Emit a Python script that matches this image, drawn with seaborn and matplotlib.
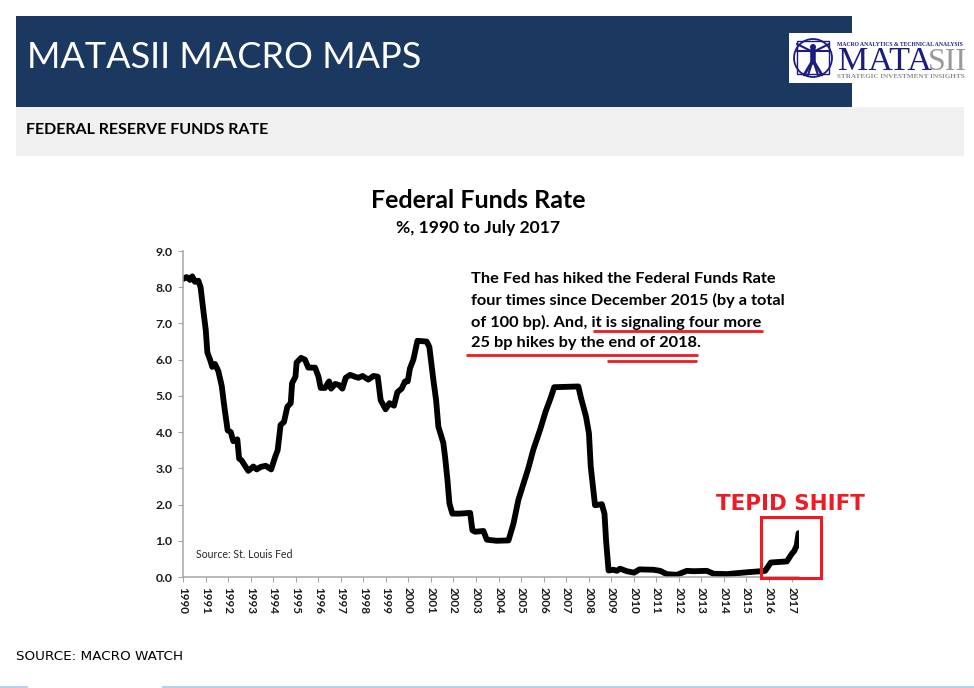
import matplotlib
matplotlib.use('Agg')
import matplotlib.pyplot as plt
import seaborn as sns
from matplotlib.patches import Rectangle, Circle

# years since 1990 and rate in %
anios = [0.01, 0.16, 0.31, 0.41, 0.53, 0.68, 0.78, 0.90, 1.01, 1.08, 1.20, 1.30, 1.42, 1.57, 1.72, 1.83,
         1.98, 2.12, 2.23, 2.41, 2.49, 2.60, 2.75, 2.90, 3.12, 3.27, 3.45, 3.67, 3.91, 4.08, 4.20, 4.33,
         4.48, 4.63, 4.78, 4.84, 4.99, 5.04, 5.24, 5.41, 5.56, 5.86, 6.01, 6.11, 6.30, 6.48, 6.57, 6.75,
         6.92, 7.07, 7.22, 7.41, 7.63, 7.78, 7.97, 8.22, 8.45, 8.64, 8.77, 8.99, 9.16, 9.36, 9.51, 9.70,
         9.85, 9.97, 10.07, 10.22, 10.40, 10.81, 10.93, 11.11, 11.23, 11.33, 11.55, 11.63, 11.73, 11.82,
         11.95, 12.29, 12.74, 12.84, 12.96, 13.33, 13.48, 13.92, 14.44, 14.66, 14.88, 15.32, 15.54, 15.84,
         16.09, 16.31, 16.47, 17.54, 17.66, 17.88, 18.01, 18.09, 18.28, 18.58, 18.70, 18.77, 18.88, 19.10,
         19.25, 19.39, 19.69, 20.01, 20.25, 20.87, 21.17, 21.46, 21.91, 22.35, 22.65, 23.24, 23.54, 24.13,
         25.01, 25.61, 25.83, 26.08, 26.79, 27.01, 27.12, 27.23, 27.31]
tasa = [8.23, 8.28, 8.20, 8.30, 8.15, 8.18, 8.00, 7.37, 6.82, 6.20, 6.00, 5.80, 5.88, 5.68, 5.27, 4.72,
        4.05, 4.00, 3.75, 3.80, 3.27, 3.22, 3.07, 2.93, 3.05, 2.97, 3.04, 3.07, 2.97, 3.30, 3.50, 4.20,
        4.28, 4.70, 4.80, 5.35, 5.53, 5.92, 6.05, 6.00, 5.78, 5.78, 5.53, 5.22, 5.22, 5.40, 5.20, 5.33,
        5.30, 5.20, 5.50, 5.58, 5.53, 5.50, 5.55, 5.45, 5.55, 5.53, 4.88, 4.63, 4.80, 4.73, 5.10, 5.20,
        5.40, 5.40, 5.76, 6.00, 6.52, 6.50, 6.35, 5.43, 4.88, 4.15, 3.70, 3.30, 2.70, 2.03,
        1.75, 1.75, 1.77, 1.29, 1.25, 1.27, 1.03, 1.00, 1.01, 1.47, 2.13, 3.00, 3.51, 4.06,
        4.57, 4.94, 5.24, 5.26, 4.94, 4.43, 3.97, 3.05, 1.98, 2.01, 1.75, 1.01, 0.18, 0.20,
        0.17, 0.23, 0.16, 0.12, 0.21, 0.20, 0.17, 0.08, 0.06, 0.17, 0.16, 0.17, 0.09, 0.08,
        0.13, 0.16, 0.17, 0.40, 0.43, 0.64, 0.72, 0.87, 1.21]
etiquetas_x = [str(a) for a in range(1990, 2018)]
marcas_y = [0, 1, 2, 3, 4, 5, 6, 7, 8, 9]

ANCHO, ALTO = 974, 688
AZUL = '#1a3860'
ROJO = '#ed1c24'

sns.set_style('white')
plt.rcParams['font.family'] = ['Lato', 'DejaVu Sans']

fig = plt.figure(figsize=(ANCHO / 100, ALTO / 100), dpi=100, facecolor='white')

# fondo en pixeles
fondo = fig.add_axes([0, 0, 1, 1])
fondo.set_xlim(0, ANCHO)
fondo.set_ylim(ALTO, 0)
fondo.axis('off')
fondo.add_patch(Rectangle((16, 16), 836, 91, color=AZUL, lw=0))
fondo.add_patch(Rectangle((16, 107), 948, 49, color='#f0f0f0', lw=0))
fondo.add_patch(Rectangle((0, 686), 28, 2, color='#b8d0f0', lw=0))
fondo.add_patch(Rectangle((162, 686), 812, 2, color='#b8d0f0', lw=0))
fondo.text(27, 57, 'MATASII MACRO MAPS', color='white', fontsize=26, va='center', ha='left')
fondo.text(26, 129.5, 'FEDERAL RESERVE FUNDS RATE', color='black', fontsize=11.5, fontweight='bold', va='center')
fondo.text(16, 656, 'SOURCE: MACRO WATCH', color='black', fontsize=9.7, family='DejaVu Sans', va='center')

# logo
fondo.add_patch(Rectangle((789, 33), 175, 50, color='white', lw=0))
fondo.add_patch(Circle((813, 58), 19, fill=False, ec='#1c1c80', lw=1.3))
fondo.add_patch(Rectangle((797, 41), 32, 33, fill=False, ec='#1c1c80', lw=1))
fondo.add_patch(Circle((813, 47), 3, color='#1c1c80', lw=0))
fondo.plot([813, 813], [50, 62], color='#1c1c80', lw=4)
fondo.plot([797, 829], [51, 51], color='#1c1c80', lw=1.5)
fondo.plot([797, 813, 829], [44, 52, 44], color='#1c1c80', lw=1.5)
fondo.plot([804, 813, 822], [75, 60, 75], color='#1c1c80', lw=2)
fondo.plot([808, 813, 818], [75, 60, 75], color='#1c1c80', lw=1.5)
fondo.text(837, 44, 'MACRO ANALYTICS & TECHNICAL ANALYSIS', color='#1c1c80', fontsize=4.05, fontweight='bold',
           family='Liberation Serif', va='center')
fondo.text(838, 70, 'MATA', color='#1c1c80', fontsize=24.5, family='Liberation Serif', va='baseline')
fondo.text(928, 70, 'SII', color='#999999', fontsize=23, family='Liberation Serif', va='baseline')
fondo.text(837, 77, 'STRATEGIC INVESTMENT INSIGHTS', color='#8c8c8c', fontsize=5.15, fontweight='bold',
           family='Liberation Serif', va='center')

# grafico
ax = fig.add_axes([183 / ANCHO, 1 - 577 / ALTO, 616 / ANCHO, 326 / ALTO])
ax.patch.set_alpha(0)
sns.lineplot(x=anios, y=tasa, color='black', linewidth=4.2, ax=ax, solid_joinstyle='round')
ax.set_xlim(0, 27.33)
ax.set_ylim(0, 9)
ax.set_xticks(range(len(etiquetas_x)))
ax.set_xticklabels(etiquetas_x, rotation=270, fontsize=8.4, fontweight='bold', color='#1a1a1a')
ax.set_yticks(marcas_y)
ax.set_yticklabels([f'{v:.1f}' for v in marcas_y], fontsize=8.8, fontweight='bold', color='#1a1a1a')
ax.tick_params(axis='both', length=3.5, width=0.8, color='#a6a6a6', direction='out', pad=4, bottom=True, left=True)
sns.despine(ax=ax)
for lado in ['left', 'bottom']:
    ax.spines[lado].set_color('#a6a6a6')
    ax.spines[lado].set_linewidth(1.1)
ax.text(196, 554, 'Source: St. Louis Fed', color='#262626', fontsize=7.6, va='center',
        transform=fondo.transData)

# titulos y nota
fondo.text(478, 200, 'Federal Funds Rate', color='black', fontsize=18, fontweight='bold', ha='center', va='center')
fondo.text(478, 228, '%, 1990 to July 2017', color='black', fontsize=12.6, fontweight='bold', ha='center', va='center')
nota = ['The Fed has hiked the Federal Funds Rate',
        'four times since December 2015 (by a total',
        'of 100 bp). And, it is signaling four more',
        '25 bp hikes by the end of 2018.']
for y, linea in zip([279, 300.5, 322, 343], nota):
    fondo.text(471, y, linea, color='black', fontsize=11.75, fontweight='bold', va='center')

# resaltado en rojo
fondo.plot([593, 763], [331, 331], color=ROJO, lw=2, solid_capstyle='butt')
fondo.plot([466, 698], [355, 355], color=ROJO, lw=2, solid_capstyle='butt')
fondo.plot([607, 697], [361, 361], color=ROJO, lw=2, solid_capstyle='butt')
fondo.add_patch(Rectangle((761, 517), 60, 61, fill=False, ec=ROJO, lw=2.2))
fondo.text(790, 504, 'TEPID SHIFT', color=ROJO, fontsize=15.4, fontweight='bold', family='DejaVu Sans',
           ha='center', va='center')
fondo.set_zorder(3)

fig.savefig('out.png', dpi=100)
